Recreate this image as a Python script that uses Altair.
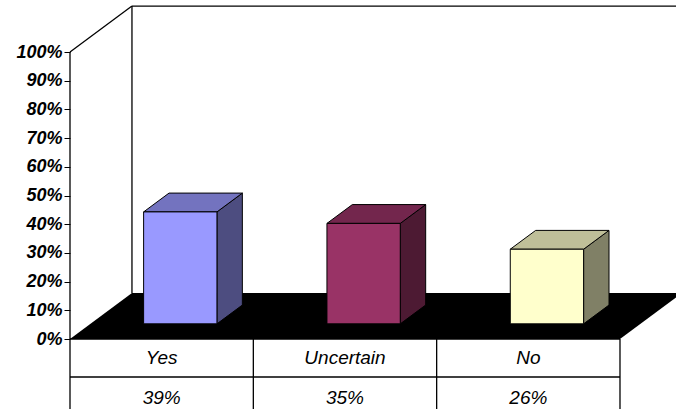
import altair as alt
import pandas as pd

# ---- data ----
categories = ["Yes", "Uncertain", "No"]
values = [39, 35, 26]
value_labels = ["39%", "35%", "26%"]
front_colors = ["#9999FF", "#993366", "#FFFFCC"]
top_colors = ["#7373BF", "#73264D", "#BFBF99"]
side_colors = ["#4D4D80", "#4D1A33", "#808066"]
y_ticks = [0, 10, 20, 30, 40, 50, 60, 70, 80, 90, 100]

# ---- oblique-projection settings (category units / percent units) ----
DX = 0.338          # depth offset in x (category units)
DY = 16.0           # depth offset in y (percent)
F1, F2 = 0.33, 0.74  # bar front / back depth fractions
BAR_L, BAR_R = 0.29, 0.69
X_DOMAIN = [0, 3.3055]
Y_DOMAIN = [-24.39, 118.12]
ROW1_Y = -6.62
ROW2_Y = -20.56
ROW_LINE_Y = -13.24
FONT = "Liberation Sans"

xs = alt.Scale(domain=X_DOMAIN, nice=False, zero=False)
ys = alt.Scale(domain=Y_DOMAIN, nice=False, zero=False)
y_axis = alt.Axis(values=y_ticks, labelExpr="datum.value + '%'", domain=False, grid=False,
                  ticks=True, tickSize=6, tickColor="black", tickWidth=1,
                  labelFont=FONT, labelFontSize=18, labelFontWeight="bold",
                  labelFontStyle="italic", labelColor="black", labelPadding=2, title=None)

def X(f="x"):
    return alt.X(f"{f}:Q", scale=xs, axis=None)

def Y(f="y"):
    return alt.Y(f"{f}:Q", scale=ys, axis=y_axis)

# ---- faces ----
front_rows, top_rows, side_rows = [], [], []
for i, (c, v) in enumerate(zip(categories, values)):
    front_rows.append(dict(cat=c, x=i + BAR_L + F1 * DX, x2=i + BAR_R + F1 * DX,
                           y=F1 * DY, y2=v + F1 * DY, fill=front_colors[i]))
    for f in (F1, F2):
        top_rows.append(dict(cat=c, y=v + f * DY, x=i + BAR_L + f * DX,
                             x2=i + BAR_R + f * DX, fill=top_colors[i]))
        side_rows.append(dict(cat=c, x=i + BAR_R + f * DX, y=f * DY,
                              y2=v + f * DY, fill=side_colors[i]))

front_df = pd.DataFrame(front_rows)
top_df = pd.DataFrame(top_rows)
side_df = pd.DataFrame(side_rows)

floor_df = pd.DataFrame([
    dict(y=0, x=0, x2=3),
    dict(y=DY, x=DX, x2=3 + DX),
])

n = len(categories)
seg = [
    (0, Y_DOMAIN[0], 0, 100),
    (0, 100, DX, 100 + DY),
    (DX, DY, DX, 100 + DY),
    (DX, 100 + DY, 3.6, 100 + DY),
    (0, 0, n, 0),
    (0, ROW_LINE_Y, n, ROW_LINE_Y),
]
for k in range(1, n + 1):
    seg.append((k, Y_DOMAIN[0], k, 0))
seg_df = pd.DataFrame(seg, columns=["x", "y", "x2", "y2"])

text_rows = []
for i, (c, lab) in enumerate(zip(categories, value_labels)):
    text_rows.append(dict(x=i + 0.5, y=ROW1_Y, t=c))
    text_rows.append(dict(x=i + 0.5, y=ROW2_Y, t=lab))
text_df = pd.DataFrame(text_rows)

floor = alt.Chart(floor_df).mark_area(orient="horizontal", color="black").encode(
    y=Y(), x=X(), x2="x2:Q")

lines = alt.Chart(seg_df).mark_rule(color="black", strokeWidth=1.3).encode(
    x=X(), y=Y(), x2="x2:Q", y2="y2:Q")

fronts = alt.Chart(front_df).mark_rect(stroke="black", strokeWidth=1).encode(
    x=X(), x2="x2:Q", y=Y(), y2="y2:Q", fill=alt.Fill("fill:N", scale=None))

tops = alt.Chart(top_df).mark_area(orient="horizontal", stroke="black", strokeWidth=1).encode(
    y=Y(), x=X(), x2="x2:Q", detail="cat:N", fill=alt.Fill("fill:N", scale=None))

sides = alt.Chart(side_df).mark_area(orient="vertical", stroke="black", strokeWidth=1).encode(
    x=X(), y=Y(), y2="y2:Q", detail="cat:N", fill=alt.Fill("fill:N", scale=None))

texts = alt.Chart(text_df).mark_text(font=FONT, fontSize=19, fontStyle="italic",
                                     color="black", baseline="middle", align="center").encode(
    x=X(), y=Y(), text="t:N")

chart = alt.layer(floor, lines, sides, tops, fronts, texts).properties(
    width=606, height=409, autosize="none",
    padding={"left": 70, "top": 0, "right": 0, "bottom": 0},
    background="white",
).configure_view(stroke=None)

chart.save("out.html", embed_options={"renderer": "svg", "actions": False})
